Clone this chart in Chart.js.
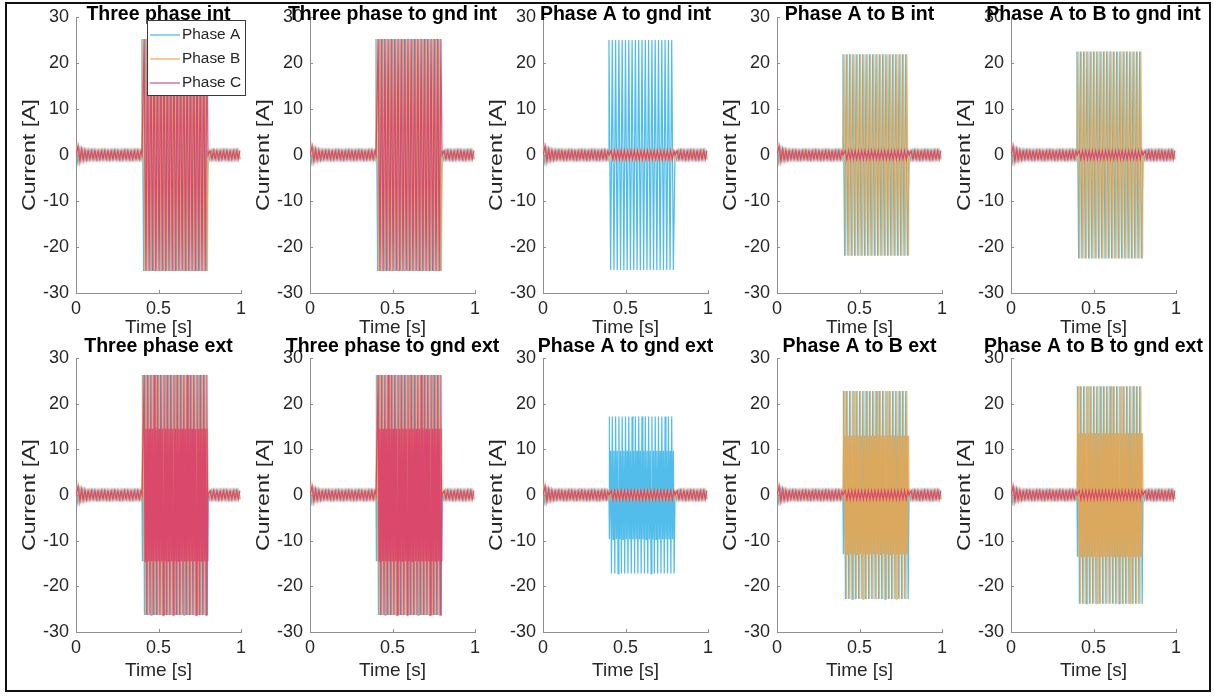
<!DOCTYPE html>
<html>
<head>
<meta charset="utf-8">
<script src="https://cdn.jsdelivr.net/npm/chart.js@4.4.1/dist/chart.umd.min.js"></script>
<style>
  body { margin: 0; background: #fff; }
  #fig { position: relative; width: 1214px; height: 696px; overflow: hidden; background: #fff; }
  #frame { position: absolute; left: 5px; top: 2px; width: 1202px; height: 686px; border: 2px solid #111; }
  .cell { position: absolute; }
</style>
</head>
<body>
<div id="fig"><div id="frame"></div></div>
<script>
// subplot titles, row by row
const titles = [
  "Three phase int", "Three phase to gnd int", "Phase A to gnd int", "Phase A to B int", "Phase A to B to gnd int",
  "Three phase ext", "Three phase to gnd ext", "Phase A to gnd ext", "Phase A to B ext", "Phase A to B to gnd ext"
];
const phaseNames = ["Phase A", "Phase B", "Phase C"];
const phaseColors = ["rgba(52,178,230,0.85)", "rgba(245,166,70,0.85)", "rgba(218,56,112,0.85)"];
const legendColors = ["#3db5e6", "#f4a84c", "#d24f96"];
const xTicks = [0, 0.5, 1];
const yTicks = [-30, -20, -10, 0, 10, 20, 30];

// timing (s)
const faultStart = 0.4;
const faultEnd = 0.8;
const period = 0.02;
const phaseShift = [0, 0.00667, 0.01333];

// pre-fault peaks (first half cycles after switch-on), then steady
const prePeaks = [2.0, 1.45, 1.3, 1.2, 1.1, 1.05, 1.0];
const steadyPeak = 0.95;

// fault peak currents per subplot, [A, B, C]
const intPeak = [
  [25.2, 25.2, 25.2],
  [25.2, 25.2, 25.2],
  [25.0, 0.95, 0.95],
  [21.9, 21.9, 0.95],
  [22.5, 22.5, 0.95]
];
const extOuter = [
  [26.3, 26.3, 26.3],
  [26.3, 26.3, 26.3],
  [17.2, 0.95, 0.95],
  [22.8, 22.8, 0.95],
  [23.8, 23.8, 0.95]
];
const extInner = [
  [14.5, 14.5, 14.5],
  [14.5, 14.5, 14.5],
  [9.7, 0.95, 0.95],
  [13.0, 13.0, 0.95],
  [13.5, 13.5, 0.95]
];
// one cycle of the ext fault current, outer (o) and inner (i) peaks
const extCycle = [["o", 1], ["i", -1], ["i", 1], ["o", -1]];

// page layout (px)
const axisLeft = [76, 310, 543, 777, 1011];
const plotW = 165;
const plotTop = [17, 358];
const plotH = [276, 274];
const padTop = 24;
const titleGap = [-3, 6];
const xAxisH = 50;
const xTitlePad = [3.6, 0];

function buildPhase(p, outer, inner) {
  const off = phaseShift[p];
  const pts = [{ x: 0, y: 0 }];
  let k = 0;
  for (let t = off; t < faultStart; t += period / 2, k++) {
    const a = k < prePeaks.length ? prePeaks[k] : steadyPeak;
    pts.push({ x: t, y: k % 2 ? -a : a });
  }
  pts.push({ x: faultStart, y: 0 });
  if (outer === inner) {
    k = 0;
    for (let t = faultStart + off; t < faultEnd; t += period / 2, k++) {
      pts.push({ x: t, y: k % 2 ? -outer : outer });
    }
  } else {
    k = 0;
    for (let t = faultStart + off; t < faultEnd; t += period / extCycle.length, k++) {
      const [kind, s] = extCycle[k % extCycle.length];
      pts.push({ x: t, y: s * (kind === "o" ? outer : inner) });
    }
  }
  pts.push({ x: faultEnd, y: 0 });
  k = 0;
  for (let t = faultEnd + off; t <= 1; t += period / 2, k++) {
    pts.push({ x: t, y: k % 2 ? -steadyPeak : steadyPeak });
  }
  return pts;
}

const FONT = "'Liberation Sans', Arial, Helvetica, sans-serif";
const axisColor = "#8f8f8f";
const textColor = "#262626";

const innerTicks = {
  id: "innerTicks",
  afterDatasetsDraw(chart) {
    const { ctx, chartArea: a, scales: { x, y } } = chart;
    ctx.save();
    ctx.strokeStyle = axisColor;
    ctx.lineWidth = 1;
    ctx.beginPath();
    xTicks.forEach(v => {
      const px = Math.round(x.getPixelForValue(v)) + 0.5;
      ctx.moveTo(px, a.bottom);
      ctx.lineTo(px, a.bottom - 3);
    });
    yTicks.forEach(v => {
      const py = Math.round(y.getPixelForValue(v)) + 0.5;
      ctx.moveTo(a.left, py);
      ctx.lineTo(a.left + 3, py);
    });
    ctx.stroke();
    ctx.restore();
  }
};

// bold title over the plot box and the long y label
const plotText = {
  id: "plotText",
  afterDraw(chart, args, opts) {
    const { ctx, chartArea: a } = chart;
    ctx.save();
    ctx.fillStyle = "#000";
    ctx.font = "bold 19.5px " + FONT;
    ctx.textAlign = "center";
    ctx.textBaseline = "alphabetic";
    ctx.fillText(opts.text, (a.left + a.right) / 2, a.top - opts.gap);
    ctx.translate(a.left - 46, (a.top + a.bottom) / 2);
    ctx.rotate(-Math.PI / 2);
    ctx.scale(1.22, 1);
    ctx.fillStyle = textColor;
    ctx.font = "19px " + FONT;
    ctx.textBaseline = "middle";
    ctx.fillText("Current [A]", 0, 0);
    ctx.restore();
  }
};

const boxLegend = {
  id: "boxLegend",
  afterDraw(chart, args, opts) {
    if (!opts.show) return;
    const { ctx, chartArea: a } = chart;
    const bx = a.left + 71, by = a.top + 3, bw = 98, bh = 75;
    ctx.save();
    ctx.fillStyle = "#fff";
    ctx.fillRect(bx, by, bw, bh);
    ctx.strokeStyle = "#3a3a3a";
    ctx.lineWidth = 1;
    ctx.strokeRect(bx + 0.5, by + 0.5, bw, bh);
    ctx.font = "15.4px " + FONT;
    ctx.textBaseline = "middle";
    phaseNames.forEach((name, i) => {
      const yy = by + 15 + i * 24;
      ctx.strokeStyle = legendColors[i];
      ctx.lineWidth = 1.2;
      ctx.beginPath();
      ctx.moveTo(bx + 3, yy);
      ctx.lineTo(bx + 33, yy);
      ctx.stroke();
      ctx.fillStyle = textColor;
      ctx.fillText(name, bx + 35, yy);
    });
    ctx.restore();
  }
};

const fig = document.getElementById("fig");

titles.forEach((title, idx) => {
  const r = Math.floor(idx / 5), c = idx % 5;
  const div = document.createElement("div");
  div.className = "cell";
  div.style.left = (axisLeft[c] - 76) + "px";
  div.style.top = (plotTop[r] - padTop) + "px";
  div.style.width = (76 + plotW + 50) + "px";
  div.style.height = (padTop + plotH[r] + xAxisH) + "px";
  const canvas = document.createElement("canvas");
  div.appendChild(canvas);
  fig.appendChild(div);

  const datasets = phaseNames.map((name, p) => {
    const outer = r === 0 ? intPeak[c][p] : extOuter[c][p];
    const inner = r === 0 ? intPeak[c][p] : extInner[c][p];
    return {
      label: name,
      data: buildPhase(p, outer, inner),
      borderColor: phaseColors[p],
      borderWidth: 1.25,
      pointRadius: 0,
      tension: 0,
      order: 3 - p
    };
  });

  new Chart(canvas, {
    type: "line",
    data: { datasets: datasets },
    options: {
      responsive: true,
      maintainAspectRatio: false,
      animation: false,
      events: [],
      parsing: false,
      normalized: true,
      layout: { padding: { left: 0, right: 50, top: padTop, bottom: 0 } },
      plugins: {
        legend: { display: false },
        tooltip: { enabled: false },
        title: { display: false },
        plotText: { text: title, gap: titleGap[r] },
        boxLegend: { show: idx === 0 }
      },
      scales: {
        x: {
          type: "linear",
          min: 0,
          max: 1,
          grid: { display: false, drawTicks: false },
          border: { display: true, color: axisColor, width: 1 },
          afterBuildTicks: (s) => { s.ticks = xTicks.map(v => ({ value: v })); },
          ticks: {
            color: textColor,
            font: { family: FONT, size: 18 },
            padding: 5,
            maxRotation: 0,
            callback: (v) => String(v)
          },
          title: {
            display: true,
            text: "Time [s]",
            color: textColor,
            font: { family: FONT, size: 19 },
            padding: { top: 0, bottom: xTitlePad[r] }
          },
          afterFit: (s) => { s.height = xAxisH; }
        },
        y: {
          type: "linear",
          min: -30,
          max: 30,
          grid: { display: false, drawTicks: false },
          border: { display: true, color: axisColor, width: 1 },
          afterBuildTicks: (s) => { s.ticks = yTicks.map(v => ({ value: v })); },
          ticks: {
            color: textColor,
            font: { family: FONT, size: 18 },
            padding: 7,
            callback: (v) => String(v)
          },
          title: { display: false },
          afterFit: (s) => { s.width = 76; }
        }
      }
    },
    plugins: [innerTicks, plotText, boxLegend]
  });
});
</script>
</body>
</html>
